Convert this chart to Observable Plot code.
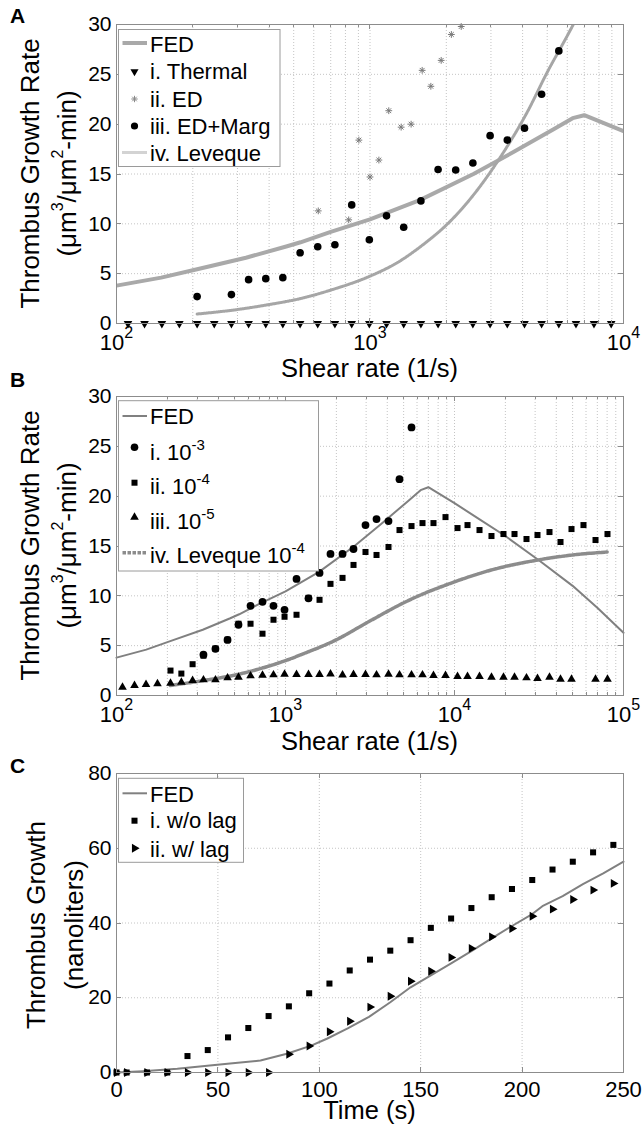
<!DOCTYPE html>
<html><head><meta charset="utf-8">
<script src="https://cdn.jsdelivr.net/npm/d3@7"></script>
<script src="https://cdn.jsdelivr.net/npm/@observablehq/plot@0.6"></script>
<style>
html,body{margin:0;padding:0;background:#fff;}
#wrap{position:relative;width:642px;height:1128px;overflow:hidden;}
</style></head><body><div id="wrap"></div>
<script>
// ---------------- DATA ----------------
// Panel A & B: FED curve (shear rate 1/s, growth rate)
const fedRate   = [100,150,208,324,471,532,700,1000,1580,2560,3680,5300,6300,7000,10000,14000,20000,32000,50000,70000,100000];
const fedGrowth = [3.8,4.6,5.45,6.6,7.75,8.15,9.2,10.45,12.4,15.0,17.2,19.5,20.6,20.9,19.3,17.7,16.0,13.5,11.0,8.8,6.3];
// Panel A
const thermalRate = [111,129,151,177,208,243,284,332,388,453,530,622,727,847,994,1162,1358,1588,1856,2178,2546,2977,3480,4069,4753,5557,6494,7648,8943];
const thermalGrowth = [0,0,0,0,0,0,0,0,0,0,0,0,0,0,0,0,0,0,0,0,0,0,0,0,0,0,0,0,0];
const edRate   = [625,824,904,1000,1084,1186,1327,1453,1606,1738,1909,2094,2290];
const edGrowth = [11.3,10.4,18.4,14.7,16.4,21.35,19.7,20.0,25.4,23.8,26.4,29.0,29.8];
const edmRate   = [208,284,332,388,453,530,622,727,847,994,1162,1358,1588,1856,2178,2546,2977,3480,4069,4753,5557];
const edmGrowth = [2.7,2.9,4.4,4.5,4.6,7.1,7.7,7.9,11.9,8.4,10.8,9.65,12.3,15.45,15.4,16.1,18.85,18.4,19.6,23.0,27.35];
const levARate   = [208,300,400,532,700,1000,1300,1580,2080,2560,3270,4170,5000,6010,6400];
const levAGrowth = [0.95,1.4,1.9,2.5,3.35,4.75,6.2,7.7,10.3,12.9,16.7,21.2,25.2,28.9,30.2];
// Panel B
const b3Rate   = [327,385,454,527,621,731,849,987,1162,1368,1590,1846,2175,2526,2974,3456,4069,4727,5567];
const b3Growth = [4.1,4.68,5.58,7.1,9.0,9.4,9.0,8.6,11.7,9.75,12.3,14.2,14.2,14.7,17.1,17.7,17.5,21.7,26.9];
const b4Rate   = [208.7,242,282,327,385,454,527,621,731,849,987,1162,1368,1590,1846,2175,2526,2974,3456,4069,4727,5567,6466,7510,8846,10420,11940,14060,16550,19490,22650,26670,30980,36480,42390,49240,57970,68300,80400];
const b4Growth = [2.5,2.2,3.14,4.0,4.7,5.6,7.2,7.2,6.2,7.6,7.9,8.1,9.8,9.6,11.2,11.8,13.1,14.4,14.1,14.9,16.6,17.0,17.3,17.3,17.9,16.8,17.1,16.6,16.0,16.2,16.2,15.7,16.1,16.4,15.4,16.7,17.1,15.6,16.2];
const b5Rate   = [108.5,127.8,149.5,174.8,208.7,242,282,327,385,454,527,621,731,849,987,1162,1368,1590,1846,2175,2526,2974,3456,4069,4727,5567,6466,7510,8846,10420,11940,14060,16550,19490,22650,26670,30980,36480,42390,49240,68300,80400];
const b5Growth = [0.83,1.0,1.1,1.17,1.23,1.33,1.5,1.57,1.57,1.77,1.84,1.97,2.04,2.07,2.14,2.1,2.1,2.1,2.15,2.05,2.1,2.11,2.07,2.14,2.07,2.07,2.07,2.01,2.01,1.91,1.91,1.91,1.84,1.84,1.84,1.77,1.71,1.84,1.64,1.64,1.64,1.64];
const levBRate   = [208,327,518,815,1000,1282,1950,3100,5440,10000,16600,29000,50000,80000];
const levBGrowth = [1.0,1.5,2.1,3.0,3.5,4.2,5.5,7.4,9.6,11.4,12.6,13.5,14.1,14.4];
// Panel C
const fedTime   = [0,13,30,46,56,71,84,96,104,114,124.5,135,145,155,165,175,185,195,205,210,220,230,240,250];
const fedVolume = [0,0.36,0.98,1.87,2.4,3.2,5.0,7.2,9.1,11.8,14.9,18.8,22.8,26.0,29.2,32.5,35.9,39.2,42.4,44.5,47.2,50.4,53.3,56.4];
const lagTime    = [0,5,15,25,35,45,55,65,75,85,95,105,115,125,135,145,155,165,175,185,195,205,215,225,235,245];
const noLagVol   = [0,0,0,0,4.4,6.0,9.4,11.9,15.1,17.7,21.2,23.8,27.3,30.2,32.6,35.4,38.7,41.2,44.0,46.9,49.1,51.5,54.3,56.4,58.9,60.9];
const withLagVol = [0,0,0,0,0,0,0,0,0,4.9,7.1,10.9,13.7,17.5,20.4,24.4,27.1,30.8,33.2,36.3,38.5,41.8,43.7,46.3,48.8,50.6];
// Tick / grid values
const logTicksA = [100,1000,10000];
const logTicksB = [100,1000,10000,100000];
const minorA = [200,300,400,500,600,700,800,900,2000,3000,4000,5000,6000,7000,8000,9000];
const minorB = [200,300,400,500,600,700,800,900,2000,3000,4000,5000,6000,7000,8000,9000,20000,30000,40000,50000,60000,70000,80000,90000];
const yTicksAB = [0,5,10,15,20,25,30];
const xTicksC = [0,50,100,150,200,250];
const yTicksC = [0,20,40,60,80];

// ---------------- STYLE ----------------
const FONT = '"Liberation Sans", Arial, Helvetica, sans-serif';
const GRID = "#c4c4c4", FRAME = "#8c8c8c";
const tbl = (xs, ys) => xs.map((x, i) => ({x, y: ys[i]}));

function tri(dir) {
  return {draw(ctx, size) {
    const s = Math.sqrt(4 * size / Math.sqrt(3)), h = s * Math.sqrt(3) / 2;
    const p = dir === "down" ? [[0, 2*h/3], [-s/2, -h/3], [s/2, -h/3]]
            : dir === "up" ? [[0, -2*h/3], [-s/2, h/3], [s/2, h/3]]
            : [[2*h/3, 0], [-h/3, -s/2], [-h/3, s/2]];
    ctx.moveTo(p[0][0], p[0][1]); ctx.lineTo(p[1][0], p[1][1]); ctx.lineTo(p[2][0], p[2][1]); ctx.closePath();
  }};
}
const triDown = tri("down"), triUp = tri("up"), triRight = tri("right");
const aster8 = {draw(ctx, size) {
  const r = Math.sqrt(size / Math.PI), d = r * 0.7071;
  ctx.moveTo(-r, 0); ctx.lineTo(r, 0); ctx.moveTo(0, -r); ctx.lineTo(0, r);
  ctx.moveTo(-d, -d); ctx.lineTo(d, d); ctx.moveTo(-d, d); ctx.lineTo(d, -d);
}};

const baseStyle = {fontFamily: FONT, fontSize: "21px", background: "transparent", overflow: "visible", color: "black"};
const powFmt = d => "10^" + Math.round(Math.log10(d));

function rich(t, parts, supSize, raise) {
  let prevSup = false;
  for (const [txt, sup] of parts) {
    const ts = t.append("tspan").text(txt);
    if (sup) { ts.attr("font-size", supSize).attr("dy", -raise); prevSup = true; }
    else if (prevSup) { ts.attr("dy", raise); prevSup = false; }
  }
}

function decorate(svg, o) {
  const s = d3.select(svg).style("position", "absolute").style("left", "0px").style("top", o.top + "px").style("overflow", "visible");
  // superscript exponents on log tick labels
  s.selectAll('g[aria-label="x-axis tick label"] text').each(function() {
    const m = /^10\^(-?\d+)$/.exec(this.textContent);
    if (!m) return;
    const t = d3.select(this); t.text(null);
    t.append("tspan").text("10");
    t.append("tspan").attr("dy", -12).attr("font-size", 16).text(m[1]);
  });
  const xs = svg.scale("x"), ys = svg.scale("y");
  const [xl, xr] = xs.range, [yb, yt] = ys.range;
  const g = s.append("g").attr("stroke", FRAME).attr("stroke-width", 1);
  const tk = (vals, len) => {
    for (const v of vals) {
      const X = Math.round(xs.apply(v)) + 0.5;
      g.append("line").attr("x1", X).attr("x2", X).attr("y1", yb).attr("y2", yb - len);
      g.append("line").attr("x1", X).attr("x2", X).attr("y1", yt).attr("y2", yt + len);
    }
  };
  tk(o.xMajor, 5); if (o.xMinor) tk(o.xMinor, 3);
  for (const v of o.yMajor) {
    const Y = Math.round(ys.apply(v)) + 0.5;
    g.append("line").attr("x1", xl).attr("x2", xl + 5).attr("y1", Y).attr("y2", Y);
    g.append("line").attr("x1", xr).attr("x2", xr - 5).attr("y1", Y).attr("y2", Y);
  }
  // titles
  const tg = s.append("g").attr("font-family", FONT).attr("fill", "black");
  tg.append("text").attr("x", (xl + xr) / 2).attr("y", o.xTitleY).attr("text-anchor", "middle").attr("font-size", 25.5).text(o.xTitle);
  o.yTitle.forEach((parts, i) => {
    const t = tg.append("text").attr("text-anchor", "middle").attr("font-size", 26)
      .attr("transform", `translate(${o.yTitleX[i]},${o.yTitleCY}) rotate(-90)`);
    rich(t, parts, 16, 13);
  });
  tg.append("text").attr("x", 10).attr("y", o.letterY).attr("text-anchor", "start").attr("font-size", 21).attr("font-weight", "bold").text(o.letter);
  // legend
  const L = o.legend;
  const lg = s.append("g").attr("font-family", FONT).attr("font-size", 22).attr("text-anchor", "start");
  lg.append("rect").attr("x", L.x).attr("y", L.y).attr("width", L.w).attr("height", L.h)
    .attr("fill", "white").attr("stroke", "#9a9a9a").attr("stroke-width", 1);
  for (const r of L.rows) {
    if (r.line) lg.append("line").attr("x1", 122.5).attr("x2", 147).attr("y1", r.my).attr("y2", r.my)
      .attr("stroke", r.line.stroke).attr("stroke-width", r.line.width).attr("stroke-dasharray", r.line.dash || null);
    if (r.sym) {
      const p = d3.path(); r.sym.draw(p, r.r * r.r * Math.PI);
      lg.append("path").attr("d", p.toString()).attr("transform", `translate(134.5,${r.my})`)
        .attr("fill", r.fill).attr("stroke", r.stroke || "none").attr("stroke-width", r.sw || 1);
    }
    const t = lg.append("text").attr("x", 150).attr("y", r.by).attr("fill", "black").attr("text-anchor", "start");
    rich(t, r.label, 15, 10);
  }
  document.getElementById("wrap").appendChild(svg);
}

// ---------------- PANEL A ----------------
const pA = Plot.plot({
  width: 642, height: 385, marginTop: 24, marginBottom: 62, marginLeft: 116, marginRight: 19,
  style: baseStyle,
  x: {type: "log", domain: [100, 10000], label: null},
  y: {domain: [0, 30], label: null},
  marks: [
    Plot.gridX(minorA.concat([1000]), {stroke: GRID, strokeOpacity: 1, strokeDasharray: "1,2"}),
    Plot.gridY([5,10,15,20,25], {stroke: GRID, strokeOpacity: 1, strokeDasharray: "1,2"}),
    Plot.line(tbl(fedRate, fedGrowth), {x: "x", y: "y", stroke: "#a9a9a9", strokeWidth: 4, clip: true}),
    Plot.line(tbl(levARate, levAGrowth), {x: "x", y: "y", stroke: "#a6a6a6", strokeWidth: 3, strokeDasharray: "1,1", curve: "monotone-x", clip: true}),
    Plot.dot(tbl(thermalRate, thermalGrowth), {x: "x", y: "y", symbol: triDown, r: 3.2, fill: "black", stroke: "none"}),
    Plot.dot(tbl(edRate, edGrowth), {x: "x", y: "y", symbol: aster8, r: 3.4, fill: "none", stroke: "#7a7a7a", strokeWidth: 1}),
    Plot.dot(tbl(edmRate, edmGrowth), {x: "x", y: "y", symbol: "circle", r: 3.8, fill: "black", stroke: "none"}),
    Plot.frame({stroke: FRAME}),
    Plot.axisX({ticks: logTicksA, tickFormat: powFmt, tickSize: 0, tickPadding: 11, fontSize: 22, label: null}),
    Plot.axisY({ticks: yTicksAB, tickSize: 0, tickPadding: 5, fontSize: 21, label: null})
  ]
});
decorate(pA, {
  top: 0, xMajor: logTicksA, xMinor: minorA, yMajor: yTicksAB,
  xTitle: "Shear rate (1/s)", xTitleY: 377,
  yTitle: [[["Thrombus Growth Rate"]], [["(μm"], ["3", true], ["/μm"], ["2", true], ["-min)"]]],
  yTitleX: [39, 76], yTitleCY: 173.5, letter: "A", letterY: 23,
  legend: {x: 118.5, y: 29.5, w: 161.5, h: 137, rows: [
    {line: {stroke: "#a9a9a9", width: 4}, my: 43, by: 51.5, label: [["FED"]]},
    {sym: triDown, r: 3.0, fill: "black", my: 71.5, by: 79, label: [["i. Thermal"]]},
    {sym: aster8, r: 3.2, fill: "none", stroke: "#8a8a8a", my: 99, by: 106.5, label: [["ii. ED"]]},
    {sym: d3.symbolCircle, r: 3.6, fill: "black", my: 126, by: 134, label: [["iii. ED+Marg"]]},
    {line: {stroke: "#a6a6a6", width: 3, dash: "1,1"}, my: 152.5, by: 160.5, label: [["iv. Leveque"]]}
  ]}
});

// ---------------- PANEL B ----------------
const pB = Plot.plot({
  width: 642, height: 375, marginTop: 11, marginBottom: 65, marginLeft: 116, marginRight: 19,
  style: baseStyle,
  x: {type: "log", domain: [100, 100000], label: null},
  y: {domain: [0, 30], label: null},
  marks: [
    Plot.gridX(minorB.concat([1000, 10000]), {stroke: GRID, strokeOpacity: 1, strokeDasharray: "1,2"}),
    Plot.gridY([5,10,15,20,25], {stroke: GRID, strokeOpacity: 1, strokeDasharray: "1,2"}),
    Plot.line(tbl(fedRate, fedGrowth), {x: "x", y: "y", stroke: "#808080", strokeWidth: 2}),
    Plot.line(tbl(levBRate, levBGrowth), {x: "x", y: "y", stroke: "#8c8c8c", strokeWidth: 3.5, strokeDasharray: "3.5,1.5", curve: "monotone-x"}),
    Plot.dot(tbl(b5Rate, b5Growth), {x: "x", y: "y", symbol: triUp, r: 3.2, fill: "black", stroke: "none"}),
    Plot.dot(tbl(b4Rate, b4Growth), {x: "x", y: "y", symbol: "square", r: 3.4, fill: "black", stroke: "none"}),
    Plot.dot(tbl(b3Rate, b3Growth), {x: "x", y: "y", symbol: "circle", r: 3.9, fill: "black", stroke: "none"}),
    Plot.frame({stroke: FRAME}),
    Plot.axisX({ticks: logTicksB, tickFormat: powFmt, tickSize: 0, tickPadding: 11, fontSize: 22, label: null}),
    Plot.axisY({ticks: yTicksAB, tickSize: 0, tickPadding: 5, fontSize: 21, label: null})
  ]
});
decorate(pB, {
  top: 385, xMajor: logTicksB, xMinor: minorB, yMajor: yTicksAB,
  xTitle: "Shear rate (1/s)", xTitleY: 365,
  yTitle: [[["Thrombus Growth Rate"]], [["(μm"], ["3", true], ["/μm"], ["2", true], ["-min)"]]],
  yTitleX: [39, 76], yTitleCY: 160.5, letter: "B", letterY: 2,
  legend: {x: 118.5, y: 15.7, w: 200, h: 170.3, rows: [
    {line: {stroke: "#808080", width: 2}, my: 31, by: 39, label: [["FED"]]},
    {sym: d3.symbolCircle, r: 3.8, fill: "black", my: 62.3, by: 75, label: [["i. 10"], ["-3", true]]},
    {sym: d3.symbolSquare, r: 3.4, fill: "black", my: 97.7, by: 109.3, label: [["ii. 10"], ["-4", true]]},
    {sym: triUp, r: 3.2, fill: "black", my: 132.3, by: 144, label: [["iii. 10"], ["-5", true]]},
    {line: {stroke: "#8c8c8c", width: 3.5, dash: "3.5,1.5"}, my: 167.7, by: 178.3, label: [["iv. Leveque 10"], ["-4", true]]}
  ]}
});

// ---------------- PANEL C ----------------
const pC = Plot.plot({
  width: 642, height: 368, marginTop: 13, marginBottom: 56, marginLeft: 116, marginRight: 19,
  style: baseStyle,
  x: {domain: [0, 250], label: null},
  y: {domain: [0, 80], label: null},
  marks: [
    Plot.gridX([50,100,150,200], {stroke: GRID, strokeOpacity: 1, strokeDasharray: "1,2"}),
    Plot.gridY([20,40,60], {stroke: GRID, strokeOpacity: 1, strokeDasharray: "1,2"}),
    Plot.line(tbl(fedTime, fedVolume), {x: "x", y: "y", stroke: "#808080", strokeWidth: 2}),
    Plot.dot(tbl(lagTime, noLagVol), {x: "x", y: "y", symbol: "square", r: 3.4, fill: "black", stroke: "none"}),
    Plot.dot(tbl(lagTime, withLagVol), {x: "x", y: "y", symbol: triRight, r: 3.3, fill: "black", stroke: "none"}),
    Plot.frame({stroke: FRAME}),
    Plot.axisX({ticks: xTicksC, tickSize: 0, tickPadding: 9, fontSize: 22, label: null}),
    Plot.axisY({ticks: yTicksC, tickSize: 0, tickPadding: 5, fontSize: 21, label: null})
  ]
});
decorate(pC, {
  top: 760, xMajor: xTicksC, yMajor: yTicksC,
  xTitle: "Time (s)", xTitleY: 359,
  yTitle: [[["Thrombus Growth"]], [["(nanoliters)"]]],
  yTitleX: [45, 83], yTitleCY: 165, letter: "C", letterY: 13,
  legend: {x: 118.5, y: 18.3, w: 125, h: 84, rows: [
    {line: {stroke: "#808080", width: 2}, my: 33.3, by: 41.7, label: [["FED"]]},
    {sym: d3.symbolSquare, r: 3.4, fill: "black", my: 60.7, by: 68.3, label: [["i. w/o lag"]]},
    {sym: triRight, r: 3.3, fill: "black", my: 88.3, by: 96.7, label: [["ii. w/ lag"]]}
  ]}
});
</script></body></html>
